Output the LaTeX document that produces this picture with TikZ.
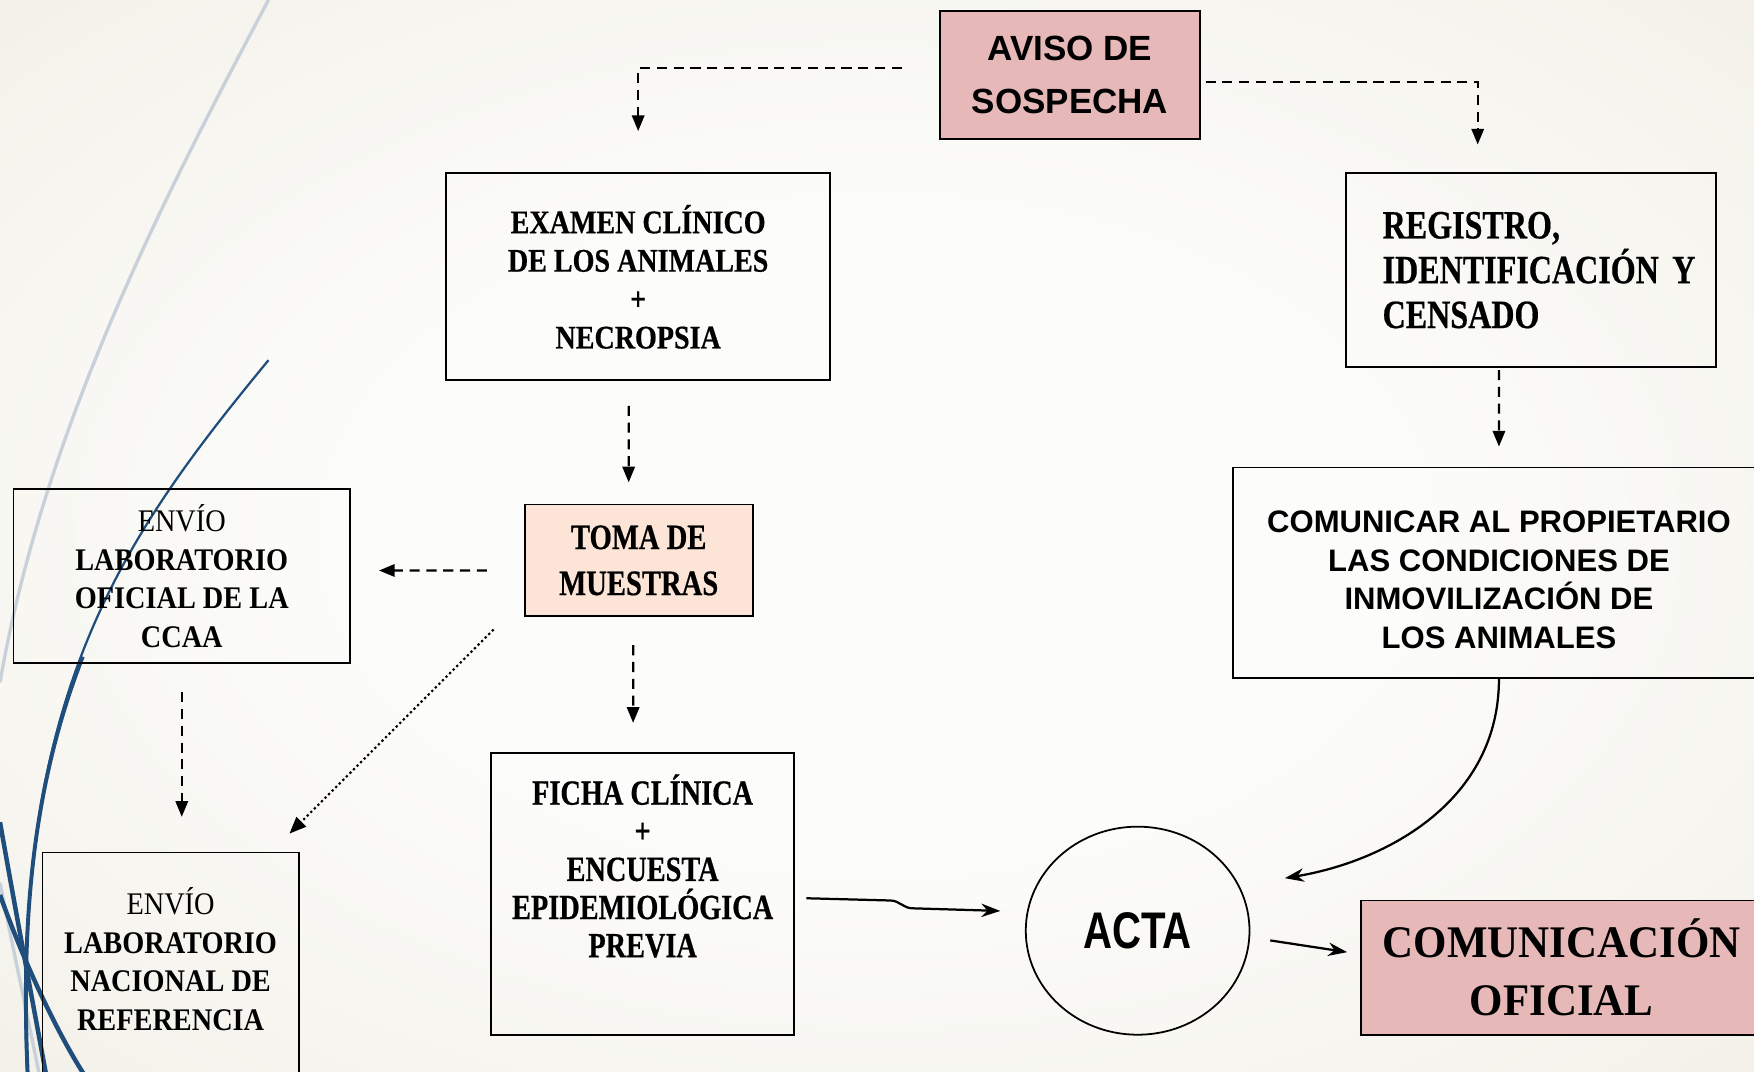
\documentclass[tikz,border=0pt]{standalone}
\usepackage{fontspec}
\setmainfont{Liberation Serif}
\newfontfamily\slidesans{Liberation Sans}
\newfontfamily\slidenarrow[FakeStretch=0.78]{Liberation Sans}
\newfontfamily\serifcond[FakeStretch=0.8, BoldFeatures={FakeBold=0.5}]{Liberation Serif}
\newfontfamily\serifexam[FakeStretch=0.85, BoldFeatures={FakeBold=0.5}]{Liberation Serif}
\newfontfamily\serifmid[FakeStretch=0.9]{Liberation Serif}
\newfontfamily\serifwide[FakeStretch=0.95]{Liberation Serif}
\usetikzlibrary{positioning,arrows.meta,shapes.geometric}

\definecolor{bgedge}{RGB}{236,233,221}
\definecolor{bgmid}{RGB}{252,252,250}
\definecolor{avisopink}{HTML}{E6B9B8}
\definecolor{tomapeach}{HTML}{FCE4D6}
\definecolor{decoblue}{HTML}{1F4E7C}
\definecolor{decogray}{HTML}{C8D0DA}
\pgfdeclareradialshading{slidebg}{\pgfpoint{0bp}{0bp}}{color(0bp)=(bgmid); color(15bp)=(bgmid); color(50bp)=(bgedge); color(72bp)=(bgedge)}

\begin{document}
\begin{tikzpicture}[
  x=0.1mm, y=-0.1mm,
  box/.style={draw, line width=0.45pt, align=center, inner sep=0pt},
  darr/.style={-{Triangle[length=1.4mm,width=1.1mm]}, line width=0.2mm,
               dash pattern=on 0.9mm off 0.6mm},
  dotarr/.style={-{Triangle[length=1.5mm,width=1.2mm]}, line width=0.2mm,
                 dash pattern=on 0.2mm off 0.25mm},
  arr/.style={-{Stealth[length=1.7mm,width=1.2mm]}, line width=0.2mm}
]
\useasboundingbox (0,0) rectangle (1568,958);
\clip (0,0) rectangle (1568,958);
\shade[shading=slidebg] (0,0) rectangle (1568,958);

% slide decoration
\draw[decogray, line width=0.3mm] (240,0) .. controls (150,170) and (40,380) .. (0,610);
\draw[decogray, line width=0.3mm] (0,789) .. controls (12,850) and (25,910) .. (36,965);
\draw[decoblue, line width=0.2mm] (240,322) .. controls (110,480) and (10,620) .. (24,958);
\draw[decoblue, line width=0.35mm] (74,587) .. controls (30,700) and (18,820) .. (25,965);
\draw[decoblue, line width=0.4mm] (0,735) .. controls (15,820) and (30,900) .. (42,965);
\draw[decoblue, line width=0.4mm] (0,800) .. controls (25,870) and (55,930) .. (78,965);

\node[box, fill=avisopink, minimum width=23.3mm, minimum height=11.4mm,
      font=\slidesans\bfseries\fontsize{8.9}{13.5}\selectfont] (aviso) at (956.5,67)
  {AVISO DE\\SOSPECHA};
\node[box, minimum width=34.3mm, minimum height=18.5mm,
      font=\serifexam\bfseries\fontsize{8.4}{9.77}\selectfont] (examen) at (570.5,247.5)
  {EXAMEN CLÍNICO\\DE LOS ANIMALES\\+\\NECROPSIA};
\node[box, minimum height=17.3mm, text width=26.5mm, inner xsep=3.3mm, align=left,
      font=\serifcond\bfseries\fontsize{10.2}{11.4}\selectfont] (registro) at (1368.5,241.5)
  {REGISTRO,\\\mbox{IDENTIFICACIÓN Y}\\CENSADO};
\node[box, fill=tomapeach, minimum width=20.4mm, minimum height=10mm,
      font=\serifcond\bfseries\fontsize{9.1}{11.7}\selectfont] (toma) at (571,501)
  {TOMA DE\\MUESTRAS};
\node[box, minimum width=47.6mm, minimum height=18.8mm,
      font=\slidesans\bfseries\fontsize{7.9}{9.77}\selectfont] (comunicar) at (1340,512)
  {\rule{0pt}{9.1pt}COMUNICAR AL PROPIETARIO\\LAS CONDICIONES DE\\INMOVILIZACIÓN DE\\LOS ANIMALES};
\node[box, minimum width=30.1mm, minimum height=15.6mm,
      font=\serifmid\bfseries\fontsize{8}{9.77}\selectfont] (envio1) at (162.5,515)
  {\textmd{ENVÍO}\\LABORATORIO\\OFICIAL DE LA\\CCAA};
\node[box, minimum width=22.9mm, minimum height=23.8mm,
      font=\serifmid\bfseries\fontsize{8}{9.77}\selectfont] (envio2) at (152.5,881)
  {\textmd{ENVÍO}\\LABORATORIO\\NACIONAL DE\\REFERENCIA\\[1.3mm]\mbox{}};
\node[box, minimum width=27.1mm, minimum height=25.2mm,
      font=\serifcond\bfseries\fontsize{9}{9.7}\selectfont] (ficha) at (574.5,799)
  {FICHA CLÍNICA\\+\\ENCUESTA\\EPIDEMIOLÓGICA\\PREVIA\\[1.6mm]\mbox{}};
\node[draw, ellipse, line width=0.45pt, minimum width=20mm, minimum height=18.6mm, inner sep=0pt,
      font=\slidenarrow\bfseries\fontsize{13.1}{15}\selectfont] (acta) at (1017,832) {ACTA};
\node[box, fill=avisopink, minimum width=35.8mm, minimum height=12mm,
      font=\serifwide\bfseries\fontsize{11.5}{14.8}\selectfont] (comunic) at (1396,865)
  {COMUNICACIÓN\\OFICIAL};

\draw[darr, shorten <=3.3mm, shorten >=3.7mm] ([yshift=0.6mm]aviso.west) -| (examen.north);
\draw[darr, shorten <=0.4mm, shorten >=2.5mm] ([yshift=-0.6mm]aviso.east) -| ([xshift=-4.75mm]registro.north);
\draw[darr, shorten <=2.2mm, shorten >=1.9mm] ([xshift=-0.85mm]examen.south) -- ([xshift=-0.9mm]toma.north);
\draw[darr, shorten <=0.2mm, shorten >=1.8mm] ([xshift=-2.85mm]registro.south) -- (comunicar.north);
\draw[darr, shorten <=3.3mm, shorten >=2.5mm] ([yshift=-0.9mm]toma.west) -- ([yshift=0.5mm]envio1.east);
\draw[dotarr] ([xshift=-2.7mm,yshift=-1.1mm]toma.south west) -- ([xshift=-0.9mm,yshift=1.6mm]envio2.north east);
\draw[darr, shorten <=2.5mm, shorten >=3.1mm] (envio1.south) -- (envio1.south |- envio2.north);
\draw[darr, shorten <=2.5mm, shorten >=2.6mm] ([xshift=-0.5mm]toma.south) -- ([xshift=-0.85mm]ficha.north);
\draw[arr, shorten >=2.2mm] ([xshift=1mm,yshift=-0.4mm]ficha.east) -- ++(75,2)
  to[out=0,in=180] ++(20,7) -- ([yshift=1.7mm]acta.west);
\draw[arr] (comunicar.south) .. controls +(0,110) and +(90,-15) .. ([xshift=4.6mm,yshift=-0.25mm]acta.30);
\draw[arr, shorten <=1.8mm, shorten >=1.2mm] ([yshift=-0.6mm]acta.east) -- ([yshift=1.2mm]comunic.west);
\end{tikzpicture}
\end{document}
